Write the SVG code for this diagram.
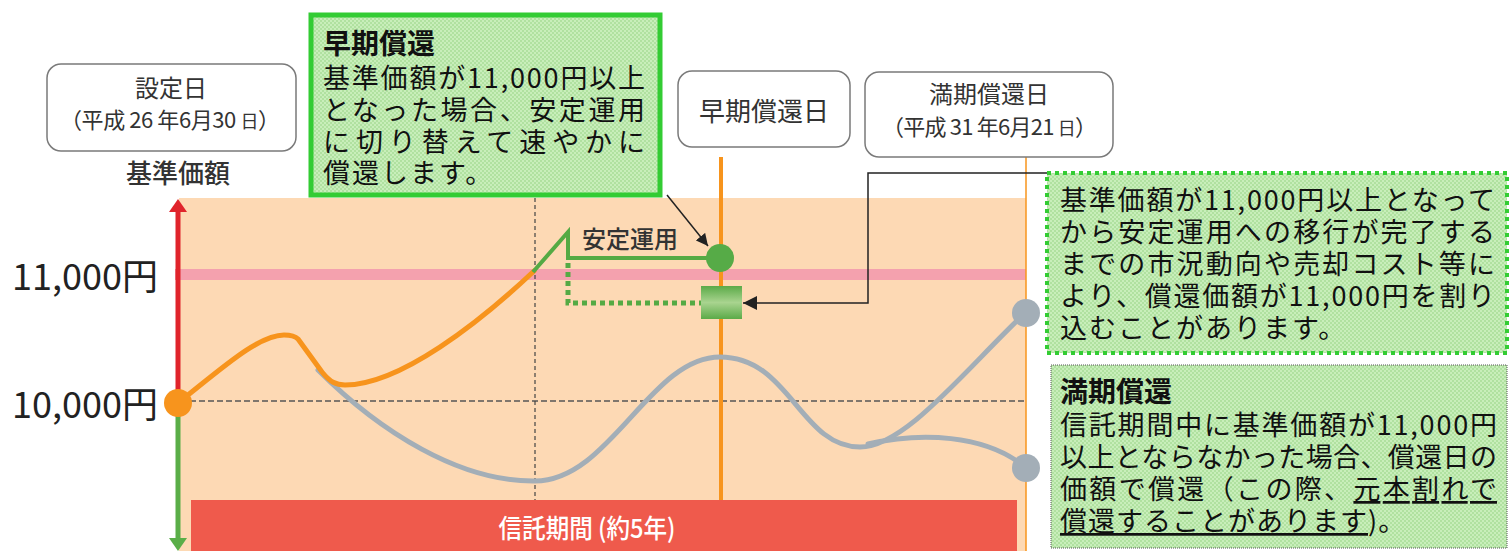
<svg xmlns="http://www.w3.org/2000/svg" width="1510" height="551" viewBox="0 0 1510 551">
<style>
.lbl{font-family:"Noto Sans CJK JP","Noto Sans",sans-serif;fill:#333;}
.jp{font-family:"Noto Sans CJK JP","Noto Sans",sans-serif;fill:#111;}
.ax{font-family:"Noto Sans CJK JP","Noto Sans",sans-serif;fill:#222;font-size:36px;}
.rbox{fill:#fff;stroke:#7a7a7a;stroke-width:1.5;}
.gray{fill:none;stroke:#A3AEB7;stroke-width:5;stroke-linecap:round;}
.conn{fill:none;stroke:#222;stroke-width:1.5;}
</style>
<defs>
<pattern id="tex" width="4" height="4" patternUnits="userSpaceOnUse"><rect width="4" height="4" fill="#C8EEBA"/><rect width="2" height="2" fill="#B0E1A0"/><rect x="2" y="2" width="2" height="2" fill="#B0E1A0"/></pattern>
<linearGradient id="sq" x1="0" y1="0" x2="0" y2="1"><stop offset="0" stop-color="#5BAA48"/><stop offset="0.5" stop-color="#A9D48F"/><stop offset="1" stop-color="#5BAA48"/></linearGradient>
<marker id="ah" viewBox="0 0 10 10" refX="10" refY="5" markerWidth="12" markerHeight="12" markerUnits="userSpaceOnUse" orient="auto"><path d="M0,0 L10,5 L0,10 z" fill="#222"/></marker>
<marker id="ah2" viewBox="0 0 10 10" refX="10" refY="5" markerWidth="14" markerHeight="14" markerUnits="userSpaceOnUse" orient="auto"><path d="M0,0 L10,5 L0,10 z" fill="#222"/></marker>
</defs>

<!-- chart background -->
<g id="chart">
<rect x="179" y="198" width="847" height="353" fill="#FDD9B4"/>
<rect x="175" y="269" width="851" height="11" fill="#F4A1AE"/>
<line x1="190" y1="401" x2="1026" y2="401" stroke="#555" stroke-width="1.5" stroke-dasharray="6 3"/>
<line x1="535" y1="198" x2="535" y2="500" stroke="#444" stroke-width="1.2" stroke-dasharray="4 3"/>
<line x1="721" y1="157" x2="721" y2="500" stroke="#F7941D" stroke-width="4"/>
<line x1="1026" y1="157" x2="1026" y2="551" stroke="#F7941D" stroke-width="1.5"/>
</g>

<!-- axis -->
<g id="axis">
<line x1="178" y1="210" x2="178" y2="403" stroke="#E0242B" stroke-width="5"/>
<path d="M169,212 L178,199 L187,212 z" fill="#E0242B"/>
<line x1="178" y1="403" x2="178" y2="540" stroke="#5AAE48" stroke-width="5"/>
<path d="M169,538 L178,551 L187,538 z" fill="#5AAE48"/>
<text class="ax" x="12" y="290">11,000円</text>
<text class="ax" x="12" y="418">10,000円</text>
<text class="lbl" x="178" y="183" font-size="26" font-weight="500" text-anchor="middle">基準価額</text>
</g>

<!-- period bar -->
<g id="period">
<rect x="191" y="500" width="826" height="51" fill="#EF5A4C"/>
<text x="587" y="538" font-family="'Noto Sans CJK JP',sans-serif" font-size="26" font-weight="500" fill="#fff" text-anchor="middle" textLength="177" lengthAdjust="spacingAndGlyphs">信託期間 (約5年)</text>
</g>

<!-- curves -->
<g id="curves">
<path class="gray" d="M318,370 C380,432 460,482 535,481 C610,481 650,357 720,357 C790,357 800,447 860,447 C905,447 965,370 1025,313"/>
<path class="gray" d="M868,444 C920,432 985,434 1025,467"/>
<path d="M178,403 C220,370 258,335 284,335 C291,335 295,336 298,339 L322,372 C330,382 336,385 345,385 C400,385 480,322 534,271" fill="none" stroke="#F7941D" stroke-width="5" stroke-linecap="round"/>
<path d="M533,272 L568,232 L568,258 L707,258" fill="none" stroke="#55AA44" stroke-width="4"/>
<path d="M568,263 L568,303 L701,303" fill="none" stroke="#55AA44" stroke-width="5" stroke-dasharray="5 4"/>
<text class="lbl" x="582" y="248" font-size="24" font-weight="500">安定運用</text>
</g>

<g id="dots">
<circle cx="178" cy="403" r="14" fill="#F7941D"/>
<circle cx="720" cy="258" r="14" fill="#56AB47"/>
<rect x="701" y="286" width="41" height="33" fill="url(#sq)"/>
<circle cx="1026" cy="313" r="14" fill="#A3AEB7"/>
<circle cx="1026" cy="468" r="14" fill="#A3AEB7"/>
</g>

<!-- connectors -->
<g id="connectors">
<line class="conn" x1="667" y1="195" x2="708" y2="246" marker-end="url(#ah)"/>
<polyline class="conn" points="1047,173 868,173 868,303 743,303" marker-end="url(#ah2)"/>
</g>

<!-- label boxes -->
<g id="setteibi">
<rect class="rbox" x="47" y="64" width="249" height="87" rx="14"/>
<text class="lbl" x="171" y="97" font-size="24" text-anchor="middle">設定日</text>
<text class="lbl" x="60" y="128" font-size="22" textLength="220" lengthAdjust="spacing">（平成 26 年6月30 <tspan font-size="18">日</tspan>）</text>
</g>

<g id="soukibi">
<rect class="rbox" x="678" y="71" width="172" height="76" rx="14"/>
<text class="lbl" x="764" y="121" font-size="26" text-anchor="middle">早期償還日</text>
</g>

<g id="mankibi">
<rect class="rbox" x="865" y="72" width="248" height="85" rx="14"/>
<text class="lbl" x="989" y="103" font-size="24" text-anchor="middle">満期償還日</text>
<text class="lbl" x="882" y="135" font-size="22" textLength="215" lengthAdjust="spacing">（平成 31 年6月21 <tspan font-size="18">日</tspan>）</text>
</g>

<g id="souki">
<rect x="311" y="15" width="349" height="180" fill="url(#tex)" stroke="#33CC33" stroke-width="5"/>
<text class="jp" x="323" y="54" font-size="28" font-weight="bold">早期償還</text>
<text class="jp" x="323" y="88" font-size="27" textLength="322" lengthAdjust="spacing">基準価額が11,000円以上</text>
<text class="jp" x="323" y="120" font-size="27" textLength="322" lengthAdjust="spacing">となった場合、安定運用</text>
<text class="jp" x="323" y="152" font-size="27" textLength="322" lengthAdjust="spacing">に切り替えて速やかに</text>
<text class="jp" x="323" y="183" font-size="27" letter-spacing="2">償還します。</text>
</g>

<g id="note1">
<rect x="1047" y="173" width="460" height="180" fill="url(#tex)" stroke="#33CC33" stroke-width="4" stroke-dasharray="4 4"/>
<text class="jp" x="1060" y="210" font-size="27" textLength="435" lengthAdjust="spacing">基準価額が11,000円以上となって</text>
<text class="jp" x="1060" y="242" font-size="27" textLength="435" lengthAdjust="spacing">から安定運用への移行が完了する</text>
<text class="jp" x="1060" y="274" font-size="27" textLength="435" lengthAdjust="spacing">までの市況動向や売却コスト等に</text>
<text class="jp" x="1060" y="306" font-size="27" textLength="435" lengthAdjust="spacing">より、償還価額が11,000円を割り</text>
<text class="jp" x="1060" y="338" font-size="27" letter-spacing="2">込むことがあります。</text>
</g>

<g id="manki">
<rect x="1051" y="365" width="456" height="183" fill="url(#tex)" stroke="#555" stroke-width="1" stroke-dasharray="1 1"/>
<text class="jp" x="1060" y="402" font-size="28" font-weight="bold">満期償還</text>
<text class="jp" x="1060" y="435" font-size="27" textLength="437" lengthAdjust="spacing">信託期間中に基準価額が11,000円</text>
<text class="jp" x="1060" y="467" font-size="27" textLength="437" lengthAdjust="spacing">以上とならなかった場合、償還日の</text>
<text class="jp" x="1060" y="499" font-size="27" textLength="437" lengthAdjust="spacing">価額で償還（この際、<tspan text-decoration="underline">元本割れで</tspan></text>
<text class="jp" x="1060" y="531" font-size="27" letter-spacing="1"><tspan text-decoration="underline">償還することがあります</tspan>)。</text>
</g>
</svg>
